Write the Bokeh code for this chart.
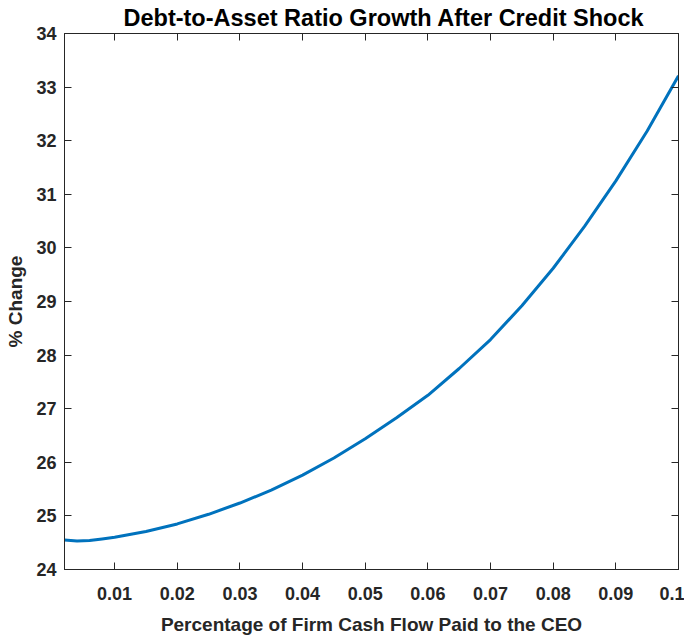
from bokeh.plotting import figure
from bokeh.models import (ColumnDataSource, LinearAxis, FixedTicker, Range1d,
                          CustomJSTickFormatter)
from bokeh.embed import file_html
from bokeh.resources import INLINE

# ---- data ----
cash_share = [0.002, 0.004, 0.006, 0.008, 0.01, 0.015, 0.02, 0.025, 0.03, 0.035,
              0.04, 0.045, 0.05, 0.055, 0.06, 0.065, 0.07, 0.075, 0.08, 0.085,
              0.09, 0.095, 0.1]
pct_change = [24.55, 24.53, 24.54, 24.57, 24.60, 24.71, 24.85, 25.03, 25.24, 25.48,
              25.76, 26.08, 26.44, 26.83, 27.25, 27.75, 28.29, 28.92, 29.62, 30.40,
              31.25, 32.18, 33.21]
x_ticks = [0.01, 0.02, 0.03, 0.04, 0.05, 0.06, 0.07, 0.08, 0.09, 0.1]
y_ticks = [24, 25, 26, 27, 28, 29, 30, 31, 32, 33, 34]

title_text = "Debt-to-Asset Ratio Growth After Credit Shock"
x_label = "Percentage of Firm Cash Flow Paid to the CEO"
y_label = "% Change"

INK = "#262626"
FONT = "Liberation Sans"

src = ColumnDataSource(data=dict(x=cash_share, y=pct_change))

p = figure(frame_width=614, frame_height=536,
           x_range=Range1d(0.002, 0.1), y_range=Range1d(24, 34),
           output_backend="svg", toolbar_location=None,
           x_axis_location=None, y_axis_location=None,
           min_border_left=64, min_border_right=6,
           min_border_top=29, min_border_bottom=62)

p.title.text = title_text
p.title.text_font = FONT
p.title.text_font_size = "23.5px"
p.title.text_font_style = "bold"
p.title.text_color = "black"
p.title.align = "left"
p.title.offset = 59
p.title.standoff = 5

p.grid.visible = False
p.outline_line_color = INK
p.outline_line_width = 1
p.background_fill_color = "white"
p.border_fill_color = "white"

fmt = CustomJSTickFormatter(code="return String(Math.round(tick*100)/100);")


def style_axis(ax, show_labels):
    ax.axis_line_color = INK
    ax.axis_line_width = 1
    ax.major_tick_line_color = INK
    ax.major_tick_in = 7
    ax.major_tick_out = 0
    ax.minor_tick_line_color = None
    if show_labels:
        ax.major_label_text_font = FONT
        ax.major_label_text_font_size = "18px"
        ax.major_label_text_font_style = "bold"
        ax.major_label_text_color = INK
        ax.axis_label_text_font = FONT
        ax.axis_label_text_font_size = "19px"
        ax.axis_label_text_font_style = "bold"
        ax.axis_label_text_color = INK
    else:
        ax.major_label_text_font_size = "1px"
        ax.major_label_text_color = None
        ax.major_label_standoff = 0


xb = LinearAxis(ticker=FixedTicker(ticks=x_ticks), formatter=fmt, axis_label=x_label)
style_axis(xb, True)
xb.major_label_standoff = 17
xb.axis_label_standoff = 11
p.add_layout(xb, "below")

yl = LinearAxis(ticker=FixedTicker(ticks=y_ticks), axis_label=y_label)
style_axis(yl, True)
yl.major_label_standoff = 8
yl.axis_label_standoff = 7
p.add_layout(yl, "left")

xt = LinearAxis(ticker=FixedTicker(ticks=x_ticks))
style_axis(xt, False)
p.add_layout(xt, "above")

yr = LinearAxis(ticker=FixedTicker(ticks=y_ticks))
style_axis(yr, False)
p.add_layout(yr, "right")

p.line("x", "y", source=src, line_color="#0072BD", line_width=3)

open("out.html", "w").write(file_html(p, INLINE))
